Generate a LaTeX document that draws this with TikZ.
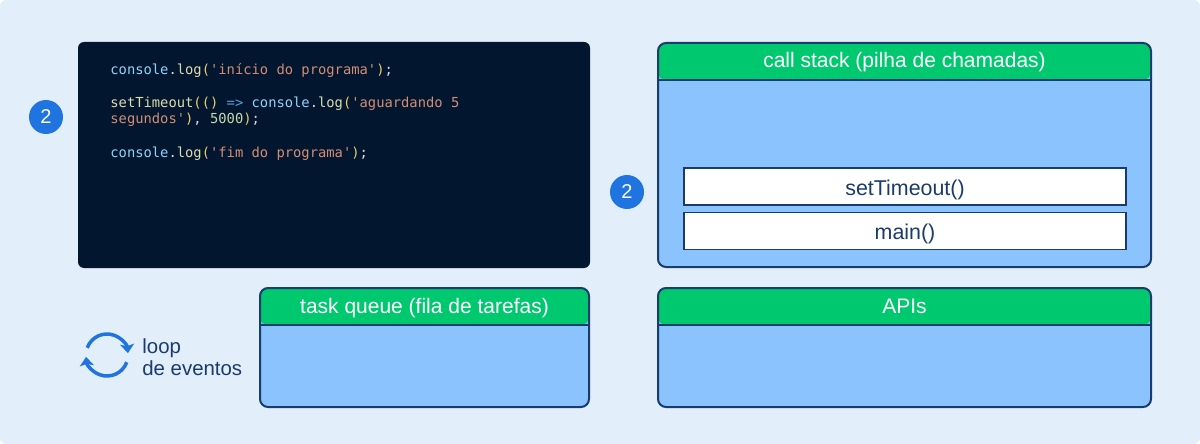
\documentclass[tikz,border=0pt]{standalone}
\usepackage{fontspec}
\setmainfont{Liberation Sans}
\setmonofont{DejaVu Sans Mono}
\usepackage{tikz}
\usetikzlibrary{positioning,arrows.meta}

\definecolor{bgblue}{HTML}{E3EEFB}
\definecolor{codebg}{HTML}{021630}
\definecolor{navy}{HTML}{1A3B6E}
\definecolor{headgreen}{HTML}{00C86E}
\definecolor{bodyblue}{HTML}{8AC3FD}
\definecolor{badgeblue}{HTML}{1F74DF}
\definecolor{codeplain}{HTML}{DCDCDC}
\definecolor{codevar}{HTML}{8FD3F8}
\definecolor{codefun}{HTML}{DCDCAA}
\definecolor{codestr}{HTML}{D38E72}
\definecolor{codenum}{HTML}{C8D9A8}
\definecolor{codekey}{HTML}{569CD6}
\definecolor{codebr}{HTML}{EBCB6B}

\newcommand{\sq}{\char"0027\relax}
\newcommand{\cvar}[1]{\textcolor{codevar}{#1}}
\newcommand{\cfun}[1]{\textcolor{codefun}{#1}}
\newcommand{\cstr}[1]{\textcolor{codestr}{#1}}
\newcommand{\cnum}[1]{\textcolor{codenum}{#1}}
\newcommand{\ckey}[1]{\textcolor{codekey}{#1}}
\newcommand{\cbr}[1]{\textcolor{codebr}{#1}}

\begin{document}
\begin{tikzpicture}[x=0.5pt, y=-0.5pt,
  panel/.style={draw=navy, line width=1pt, fill=bodyblue, rounded corners=4pt, inner sep=0pt,
    path picture={
      \fill[headgreen] (path picture bounding box.north west) rectangle ([yshift=-18.5pt]path picture bounding box.north east);
      \draw[navy, line width=1pt] ([yshift=-18.5pt]path picture bounding box.north west) -- ([yshift=-18.5pt]path picture bounding box.north east);
    }},
  paneltitle/.style={anchor=base, text=white, font=\fontsize{10.5pt}{12pt}\selectfont, inner sep=0pt},
  codebox/.style={fill=codebg, rounded corners=3pt, minimum width=256pt, minimum height=113pt, inner sep=0pt},
  code/.style={anchor=base west, text=codeplain, font=\ttfamily\fontsize{6.9pt}{8pt}\selectfont, inner sep=0pt},
  badge/.style={circle, fill=badgeblue, text=white, minimum size=17pt, inner sep=0pt, font=\fontsize{10pt}{11pt}\selectfont},
  frame/.style={draw=navy, line width=0.75pt, fill=white, minimum width=221pt, minimum height=18.5pt, inner sep=0pt,
    text=navy, font=\fontsize{10.7pt}{12pt}\selectfont, text height=10pt, text depth=1.5pt},
  loopline/.style={draw=badgeblue, line width=1.75pt, -{Stealth[length=4.5pt, width=7pt, inset=1pt]}},
  looptext/.style={anchor=base west, text=navy, font=\fontsize{10.2pt}{12pt}\selectfont, inner sep=0pt}
]
\useasboundingbox (0,0) rectangle (1200,444);
\fill[bgblue, rounded corners=3pt] (0,0) rectangle (1200,444);

% code
\node[codebox] (code) at (334,155) {};
\node[code] (line1) at (110,75) {\cvar{console}.\cfun{log}\cbr{(}\cstr{\sq início do programa\sq}\cbr{)};};
\node[code] (line2) at (110,108) {\cfun{setTimeout}\cbr{(()} \ckey{=>} \cvar{console}.\cfun{log}\cbr{(}\cstr{\sq aguardando 5}};
\node[code] (line3) at (110,124) {\cstr{segundos\sq}\cbr{)}, \cnum{5000}\cbr{)};};
\node[code] (line4) at (110,158) {\cvar{console}.\cfun{log}\cbr{(}\cstr{\sq fim do programa\sq}\cbr{)};};
\node[badge] (badgecode) at (46,117) {2};

% call stack
\node[panel, minimum width=246.5pt, minimum height=112pt] (stack) at (904.5,155) {};
\node[paneltitle] (stacktitle) at (904.5,68) {call stack (pilha de chamadas)};
\node[frame] (mainframe) at (905,231) {main()};
\node[frame, above=3pt of mainframe] (timeoutframe) {setTimeout()};
\node[badge] (badgestack) at (627,192) {2};

% task queue and apis
\node[panel, minimum width=164.5pt, minimum height=59.5pt] (queue) at (424.5,347.5) {};
\node[paneltitle] (queuetitle) at (424.5,313) {task queue (fila de tarefas)};
\node[panel, minimum width=246.5pt, minimum height=59.5pt] (apis) at (904.5,347.5) {};
\node[paneltitle] (apistitle) at (904.5,313) {APIs};

% loop de eventos
\coordinate (loopc) at (107,355);
\draw[loopline] ([shift={(160:10.5pt)}]loopc) arc[start angle=160, end angle=5, radius=10.5pt];
\draw[loopline] ([shift={(-20:10.5pt)}]loopc) arc[start angle=-20, end angle=-175, radius=10.5pt];
\node[looptext] (looptop) at (142,353) {loop};
\node[looptext] (loopbot) at (142,375) {de eventos};
\end{tikzpicture}
\end{document}
